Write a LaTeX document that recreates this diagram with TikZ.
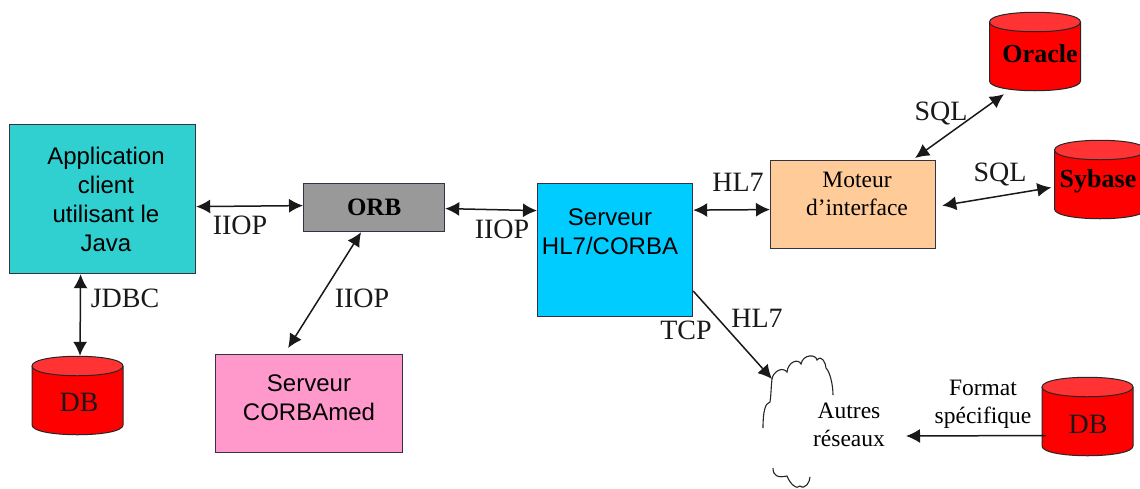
\documentclass[tikz,border=0pt]{standalone}
\usepackage{fontspec}
\setmainfont{Liberation Serif}
\newfontfamily\arialf{Liberation Sans}
\usetikzlibrary{arrows.meta,calc}
\definecolor{tealbox}{HTML}{30D0D0}
\definecolor{graybox}{HTML}{999999}
\definecolor{bluebox}{HTML}{00CCFF}
\definecolor{peachbox}{HTML}{FFCC99}
\definecolor{pinkbox}{HTML}{FF99CC}
\definecolor{dbtop}{HTML}{FF3333}
\definecolor{edge}{HTML}{333344}
\newcommand{\dbcyl}[3]{% name, centre x, top y  (width 91, height 79)
  \begin{scope}[shift={(#2,#3)}]
    \fill[red] (-45.5,10) -- (-45.5,69) .. controls (-45.5,82) and (45.5,82) .. (45.5,69) -- (45.5,10) -- cycle;
    \draw[cylline] (-45.5,10) -- (-45.5,69) .. controls (-45.5,82) and (45.5,82) .. (45.5,69) -- (45.5,10);
    \draw[cylline,fill=dbtop] (-45.5,10) .. controls (-45.5,-3) and (45.5,-3) .. (45.5,10)
       .. controls (45.5,23) and (-45.5,23) .. (-45.5,10) -- cycle;
    \node[inner sep=0pt,minimum width=91pt,minimum height=79pt] (#1) at (0,39.5) {};
  \end{scope}}
\tikzset{
  x=1pt,y=-1pt,
  cylline/.style={draw=black!85,line width=1pt},
  box/.style={draw=edge,line width=1.2pt,inner sep=0pt,align=center,anchor=north west,text depth=0pt},
  sansfont/.style={font=\arialf\fontsize{24}{29}\selectfont,align=center,inner sep=0pt},
  lbl/.style={inner sep=0pt,font=\fontsize{28}{30}\selectfont,text=black!90},
  dblbl/.style={inner sep=0pt,font=\bfseries\fontsize{26}{30}\selectfont},
  txt/.style={inner sep=0pt,align=center,font=\fontsize{23.5}{28}\selectfont},
  link/.style={line width=1.5pt,black!90,{Latex[length=14pt,width=14pt]}-{Latex[length=14pt,width=14pt]}},
  onelink/.style={line width=1.5pt,black!90,-{Latex[length=14pt,width=14pt]}},
  cloudline/.style={line width=1.1pt,black!85},
}
\begin{document}
\begin{tikzpicture}
\useasboundingbox (0,0) rectangle (1140,488);
\fill[white] (0,0) rectangle (1140,488);
% boxes
\node[box,fill=tealbox,minimum width=186pt,minimum height=149pt] (app) at (9,124) {};
\node[sansfont] (apptext) at (106,199) {Application\\client\\utilisant le\\Java};
\node[box,fill=graybox,minimum width=141pt,minimum height=48pt,font=\bfseries\fontsize{25}{30}\selectfont] (orb) at (303,183) {ORB};
\node[box,fill=bluebox,minimum width=155pt,minimum height=133pt] (hl) at (537,183) {};
\node[sansfont] (hltext) at (610,232) {Serveur\\HL7/CORBA};
\node[box,fill=peachbox,minimum width=165pt,minimum height=88pt] (mot) at (770,160) {};
\node[txt] (mottext) at (857,194) {Moteur\\d’interface};
\node[box,fill=pinkbox,minimum width=187pt,minimum height=98pt] (corba) at (215,354) {};
\node[sansfont] (corbatext) at (309,398) {Serveur\\CORBAmed};
% cylinders
\dbcyl{dbl}{77.5}{356}
\node[lbl] (dbltext) at (79,402) {DB};
\dbcyl{ora}{1035}{12}
\node[dblbl] (oratext) at (1040,54) {Oracle};
\dbcyl{syb}{1100}{140}
\node[dblbl] (sybtext) at (1098,181) {Sybase};
\dbcyl{dbr}{1087.5}{377}
\node[lbl] (dbrtext) at (1088,424) {DB};
% connector labels
\node[lbl] (l1) at (240,225) {IIOP};
\node[lbl] (l2) at (502,229) {IIOP};
\node[lbl] (l3) at (362,298) {IIOP};
\node[lbl] (l4) at (125,298) {JDBC};
\node[lbl] (l5) at (738,182) {HL7};
\node[lbl] (l6) at (941,113) {SQL};
\node[lbl] (l7) at (1000,174) {SQL};
\node[lbl] (l8) at (757,318) {HL7};
\node[lbl] (l9) at (686,330) {TCP};
\node[txt] (fmt) at (983,404) {Format\\spécifique};
\node[txt] (aut) at (849,425) {Autres\\réseaux};
% connectors
\coordinate (cl) at (772,379);
\coordinate (cr) at (906,436);
\draw[link] ([yshift=-7.5pt]app.east) -- ([yshift=2pt]orb.west);
\draw[link] ([yshift=-1pt]orb.east) -- ([yshift=39.5pt]hl.west);
\draw[link] ([yshift=40pt]hl.east) -- ([yshift=-5pt]mot.west);
\draw[link] ([xshift=-13pt]orb.south) -- ([xshift=-21pt,yshift=6pt]corba.north);
\draw[link] ([xshift=-22pt]app.south) -- ([xshift=2.5pt]dbl.north);
\draw[link] ([xshift=62pt,yshift=2pt]mot.north) -- ([xshift=-31pt,yshift=-3pt]ora.south);
\draw[link] ([xshift=6pt,yshift=-1pt]mot.east) -- ([xshift=-3pt,yshift=-8pt]syb.west);
\draw[onelink] (hl.east |- 0,291) -- (cl);
\draw[onelink] ([xshift=4pt,yshift=-19pt]dbr.west) -- (cr);
% cloud fragments
\draw[cloudline] (cl) .. controls (773,372) and (782,366) .. (787,372)
  .. controls (788,362) and (798,358) .. (801,364)
  .. controls (803,354) and (816,354) .. (817,360)
  .. controls (822,354) and (826,364) .. (826,368)
  .. controls (830,372) and (833,385) .. (833,395);
\draw[cloudline] (cl) .. controls (771,388) and (771,396) .. (770,402)
  .. controls (765,403) and (763,412) .. (763,428);
\draw[cloudline] (773,468) .. controls (773,476) and (778,478) .. (787,476)
  .. controls (790,484) and (797,490) .. (800,486)
  .. controls (805,490) and (810,482) .. (810,477);
\end{tikzpicture}
\end{document}
